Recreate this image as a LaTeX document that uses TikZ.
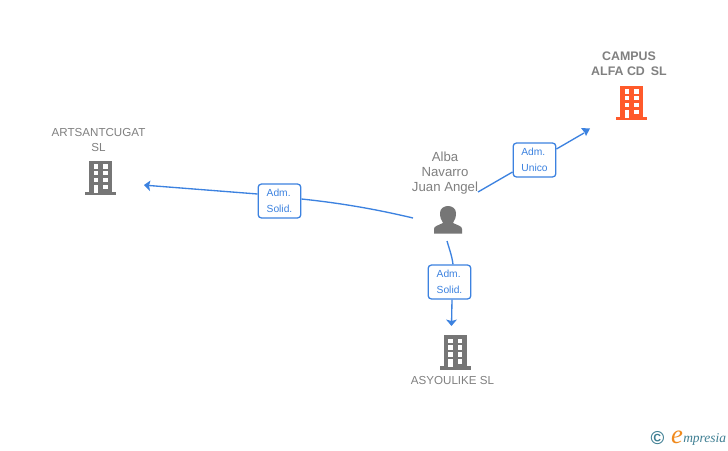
\documentclass[tikz,border=0pt]{standalone}
\usepackage{fontspec}
\setmainfont{Liberation Sans}
\newfontfamily\logofont{Liberation Serif}
\definecolor{linkblue}{HTML}{3C82E0}
\definecolor{labelgray}{HTML}{808080}
\definecolor{icongray}{HTML}{767676}
\definecolor{iconorange}{HTML}{FF5A2B}
\definecolor{logoteal}{HTML}{3F7F93}
\definecolor{logoorange}{HTML}{F08A1D}
\newcommand{\buildingicon}[3]{%
  \begin{scope}[shift={(#1,#2)}]
    \fill[#3] (-11.5,0) rectangle (11.5,32);
    \fill[#3] (-15.5,31) rectangle (15.5,34.5);
    \foreach \yy in {3.5,10,17} {
      \fill[white] (-7,\yy) rectangle (-2.5,\yy+4.5);
      \fill[white] (2.5,\yy) rectangle (7,\yy+4.5);
    }
    \fill[white] (-7,24) rectangle (-2.5,32);
    \fill[white] (2.5,24) rectangle (7,28.5);
  \end{scope}}
\tikzset{
  x=0.75pt,y=-0.75pt,
  entity/.style={font=\fontsize{8.7pt}{11.2pt}\selectfont,text=labelgray,align=center,inner sep=0pt},
  entitybold/.style={entity,font=\fontsize{9.3pt}{11.2pt}\selectfont\bfseries},
  person/.style={font=\fontsize{9.9pt}{11.3pt}\selectfont,text=labelgray,align=center,inner sep=0pt},
  rolebox/.style={draw=linkblue,line width=0.95pt,rounded corners=2.5pt,fill=white,text=linkblue,
    minimum width=32pt,minimum height=25.5pt,inner sep=0pt,align=left,
    font=\fontsize{7.7pt}{12.2pt}\selectfont},
  link/.style={draw=linkblue,line width=1pt},
  tip/.style={fill=linkblue,draw=none},
}
\begin{document}
\begin{tikzpicture}
\useasboundingbox (0,0) rectangle (728,450);
\fill[white] (0,0) rectangle (728,450);
% labels
\node[entitybold] (campus) at (629,63.5) {CAMPUS\\ALFA CD\hspace{4.5pt}SL};
\node[entity] (artsant) at (98.5,140) {ARTSANTCUGAT\\SL};
\node[entity] (asyou) at (452.5,381) {ASYOULIKE SL};
\node[person] (alba) at (445,173) {Alba\\Navarro\\Juan Angel};
% icons
\buildingicon{631.5}{85.5}{iconorange}
\buildingicon{100.5}{160.5}{icongray}
\buildingicon{455}{335}{icongray}
% person icon
\fill[icongray] (434,233.5) -- (434,229) .. controls (434,226) and (438,225.5) .. (443,223)
  .. controls (441,220) and (440,217) .. (440,213) .. controls (440,208.5) and (444,206) .. (448,206)
  .. controls (452,206) and (456,208.5) .. (456,213) .. controls (456,217) and (455,220) .. (453,223)
  .. controls (458,225.5) and (462,226) .. (462,229) -- (462,233.5) -- cycle;
\coordinate (personw) at (413,218);
\coordinate (personne) at (478,192);
\coordinate (persons) at (447,241);
\coordinate (endcampus) at (590,128.5);
\coordinate (endart) at (144,185);
\coordinate (endasy) at (451.5,326);
% boxes
\node[rolebox] (boxunico) at (534.5,160) {Adm.\\Unico};
\node[rolebox] (boxart) at (279.5,201) {Adm.\\Solid.};
\node[rolebox] (boxasy) at (449.5,282) {Adm.\\Solid.};
% connectors
\draw[link] (personne) -- (boxunico.west |- 513,172);
\draw[link] (boxunico.east |- 556,149) -- (584,133);
\draw[link] (personw) .. controls (375,209) and (340,203) .. (boxart.east |- 301,199);
\draw[link] (boxart.west |- 258,194) -- (149,185.5);
\draw[link] (persons) .. controls (449,248) and (452,256) .. (boxasy.north -| 453,265);
\draw[link] (boxasy.south -| 452,299) -- (451.6,321);
% arrow heads
\fill[tip] (endcampus) -- (581,128) -- (584.5,132.5) -- (586,136) -- cycle;
\fill[tip] (endart) -- (150.5,180.5) -- (149,185.5) -- (150,191) -- cycle;
\fill[tip] (endasy) -- (446,319.5) -- (451.6,321) -- (457,319.5) -- cycle;
% logo
\node[inner sep=0pt,text=logoteal,font=\bfseries\fontsize{14pt}{14pt}\selectfont] (copyr) at (657.5,438.5) {\char"00A9};
\node[inner sep=0pt,text=logoorange,font=\logofont\itshape\fontsize{20pt}{20pt}\selectfont] (logoe) at (677,437) {e};
\node[inner sep=0pt,anchor=west,text=logoteal,font=\logofont\itshape\fontsize{10.1pt}{10.1pt}\selectfont] (logotext) at (683,439) {mpresia};
\end{tikzpicture}
\end{document}
